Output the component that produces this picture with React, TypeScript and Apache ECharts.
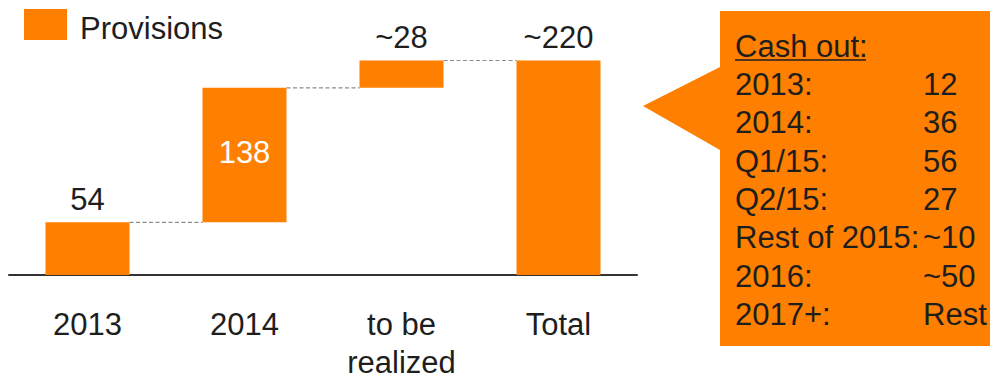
import React, { useEffect, useRef } from "react";
import * as echarts from "echarts";

const categories = ["2013", "2014", "to be\nrealized", "Total"];
const baseValues = [0, 54, 192, 0];
const barValues = [54, 138, 28, 220];
const barLabels = ["54", "138", "~28", "~220"];
const connectorLevels = [54, 192, 220];
const seriesName = "Provisions";
const cashTitle = "Cash out:";
const cashLabels = ["2013:", "2014:", "Q1/15:", "Q2/15:", "Rest of 2015:", "2016:", "2017+:"];
const cashValues = ["12", "36", "56", "27", "~10", "~50", "Rest"];

const ORANGE = "#FF7F00";
const TEXT = "#1e1e1e";
const FONT = "'Liberation Sans', Arial, sans-serif";
const BAR_RATIO = 0.535;
const FS = 31;

export default function App() {
  const ref = useRef<HTMLDivElement>(null);

  useEffect(() => {
    document.body.style.margin = "0";
    if (!ref.current) return;
    const chart = echarts.init(ref.current, null, { renderer: "svg" });

    const rowY0 = 84.3;
    const rowStep = 38.4;
    const tableTexts: any[] = [];
    tableTexts.push({
      type: "text",
      x: 735,
      y: 46,
      style: { text: cashTitle, font: `${FS}px ${FONT}`, fill: TEXT, verticalAlign: "middle", align: "left" },
    });
    tableTexts.push({
      type: "line",
      shape: { x1: 735, y1: 60, x2: 866, y2: 60 },
      style: { stroke: TEXT, lineWidth: 1.5 },
    });
    cashLabels.forEach((lab, i) => {
      tableTexts.push({
        type: "text",
        x: 735,
        y: rowY0 + i * rowStep,
        style: { text: lab, font: `${FS}px ${FONT}`, fill: TEXT, verticalAlign: "middle", align: "left" },
      });
      tableTexts.push({
        type: "text",
        x: 923,
        y: rowY0 + i * rowStep,
        style: { text: cashValues[i], font: `${FS}px ${FONT}`, fill: TEXT, verticalAlign: "middle", align: "left" },
      });
    });

    chart.setOption({
      animation: false,
      textStyle: { fontFamily: FONT },
      legend: {
        data: [seriesName],
        left: 19,
        top: 4,
        itemWidth: 43,
        itemHeight: 31,
        icon: "rect",
        selectedMode: false,
        formatter: "{t|{name}}",
        textStyle: {
          fontSize: FS,
          color: TEXT,
          fontFamily: FONT,
          rich: { t: { fontSize: FS, color: TEXT, fontFamily: FONT, padding: [7, 0, 0, 8] } },
        },
      },
      grid: { left: 9, top: 60.5, width: 628, height: 214.5 },
      xAxis: {
        type: "category",
        data: categories,
        axisTick: { show: false },
        axisLine: { lineStyle: { color: "#333", width: 2 } },
        axisLabel: { fontSize: FS, color: TEXT, lineHeight: 38.5, margin: 30, interval: 0, fontFamily: FONT },
      },
      yAxis: { type: "value", min: 0, max: 220, show: false, splitLine: { show: false } },
      graphic: [
        {
          type: "polygon",
          shape: {
            points: [
              [720, 11],
              [990, 11],
              [990, 346],
              [720, 346],
              [720, 150],
              [643, 106],
              [720, 67],
            ],
          },
          style: { fill: ORANGE },
        },
        ...tableTexts,
      ],
      series: [
        {
          type: "custom",
          name: "connectors",
          silent: true,
          z: 1,
          data: connectorLevels.map((v, i) => [i, v]),
          renderItem: (params: any, api: any) => {
            const idx = api.value(0);
            const lvl = api.value(1);
            const p0 = api.coord([idx, lvl]);
            const p1 = api.coord([idx + 1, lvl]);
            const band = api.size([1, 0])[0];
            const half = (band * BAR_RATIO) / 2;
            return {
              type: "line",
              shape: { x1: p0[0] + half, y1: p0[1], x2: p1[0] - half, y2: p1[1] },
              style: { stroke: "#8c8c8c", lineWidth: 1.2, lineDash: [4, 2.5] },
            };
          },
        },
        {
          type: "bar",
          name: "base",
          stack: "wf",
          silent: true,
          barWidth: `${BAR_RATIO * 100}%`,
          itemStyle: { color: "transparent" },
          data: baseValues,
        },
        {
          type: "bar",
          name: seriesName,
          stack: "wf",
          barWidth: `${BAR_RATIO * 100}%`,
          itemStyle: { color: ORANGE },
          z: 3,
          data: barValues.map((v, i) => ({
            value: v,
            label:
              i === 1
                ? {
                    show: true,
                    position: "inside",
                    formatter: barLabels[i],
                    color: "#fff",
                    fontSize: FS,
                    fontFamily: FONT,
                    offset: [0, -3],
                  }
                : {
                    show: true,
                    position: "top",
                    distance: 8,
                    formatter: barLabels[i],
                    color: TEXT,
                    fontSize: FS,
                    lineHeight: 30,
                    fontFamily: FONT,
                  },
          })),
        },
      ],
    });

    return () => chart.dispose();
  }, []);

  return <div ref={ref} style={{ width: 990, height: 382 }} />;
}
